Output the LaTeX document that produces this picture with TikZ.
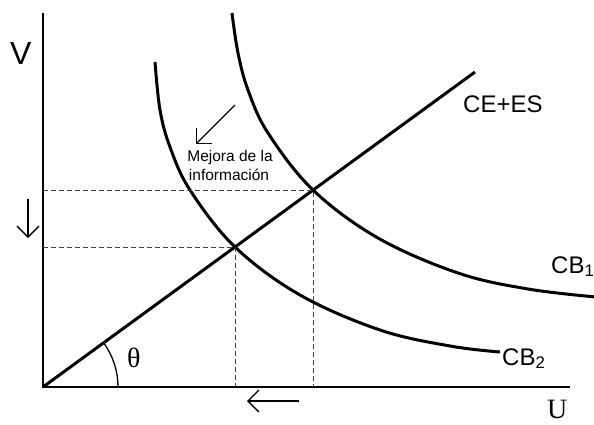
\documentclass[tikz,border=0pt]{standalone}
\usepackage{fontspec}
\setmainfont{Liberation Sans}
\newfontfamily\seriffont{Liberation Serif}
\usetikzlibrary{arrows.meta}

\begin{document}
\begin{tikzpicture}[x=1pt, y=-1pt,
    curve/.style={line width=3pt},
    guide/.style={black!75, line width=0.9pt, dash pattern=on 5pt off 3pt},
    shiftarrow/.style={line width=1.4pt, -{Straight Barb[length=11pt,width=22pt]}},
    lab/.style={inner sep=0pt, anchor=base west, font=\fontsize{24}{28}\selectfont}]
    \useasboundingbox (0,0) rectangle (594,425);
    \clip (0,0) rectangle (594,425);

    % Axes
    \coordinate (O) at (43,387);
    \coordinate (Vtop) at (43,13);
    \coordinate (Uend) at (570,387);
    \draw[line width=2.2pt] (Vtop) -- (O) -- (Uend);
    \node[inner sep=0pt, anchor=base west, font=\fontsize{32}{36}\selectfont] (labV) at (10,65) {V};
    \node[inner sep=0pt, anchor=base west, font=\seriffont\fontsize{28}{32}\selectfont] (labU) at (547,418) {U};

    % CE+ES line
    \coordinate (Pend) at (475,72);
    \draw[line width=3pt] (O) -- (Pend);
    \node[lab] (labCE) at (463,113) {CE+ES};

    % Indifference curves
    \draw[curve] plot[smooth, tension=0.6] coordinates {(155,62) (160,110) (170,147) (190,190) (235,247) (300,295) (380,330) (450,346) (500,352)};
    \draw[curve] plot[smooth, tension=0.6] coordinates {(232,13) (238,53) (248,90) (268,133) (313,190) (378,238) (458,273) (528,289) (596,297)};
    \node[lab] (labCBa) at (551,273) {CB\textsubscript{1}};
    \node[lab] (labCBb) at (502,365) {CB\textsubscript{2}};

    % Equilibrium points
    \coordinate (A) at (235,247);
    \coordinate (B) at (313,190);
    \draw[guide] (O |- A) -- (A) -- (A |- O);
    \draw[guide] (O |- B) -- (B) -- (B |- O);

    % Angle
    \draw[line width=1.3pt] (118,387) arc[start angle=0, end angle=-36.1, radius=75];
    \node[inner sep=0pt, anchor=base west, font=\seriffont\fontsize{28}{30}\selectfont] (labTheta) at (127,367) {θ};

    % Shift arrows
    \coordinate (v1) at (28,199);
    \coordinate (v2) at (28,238);
    \draw[shiftarrow] (v1) -- (v2);
    \coordinate (u1) at (299,401);
    \coordinate (u2) at (247,401);
    \draw[shiftarrow] (u1) -- (u2);
    \coordinate (m1) at (235,105);
    \coordinate (m2) at (196,144);
    \draw[shiftarrow] (m1) -- (m2);
    \node[inner sep=0pt, anchor=base, font=\fontsize{15.5}{18}\selectfont] (labMej) at (230,161) {Mejora de la};
    \node[inner sep=0pt, anchor=base, font=\fontsize{15.5}{18}\selectfont] (labInf) at (229,180) {información};
\end{tikzpicture}
\end{document}
